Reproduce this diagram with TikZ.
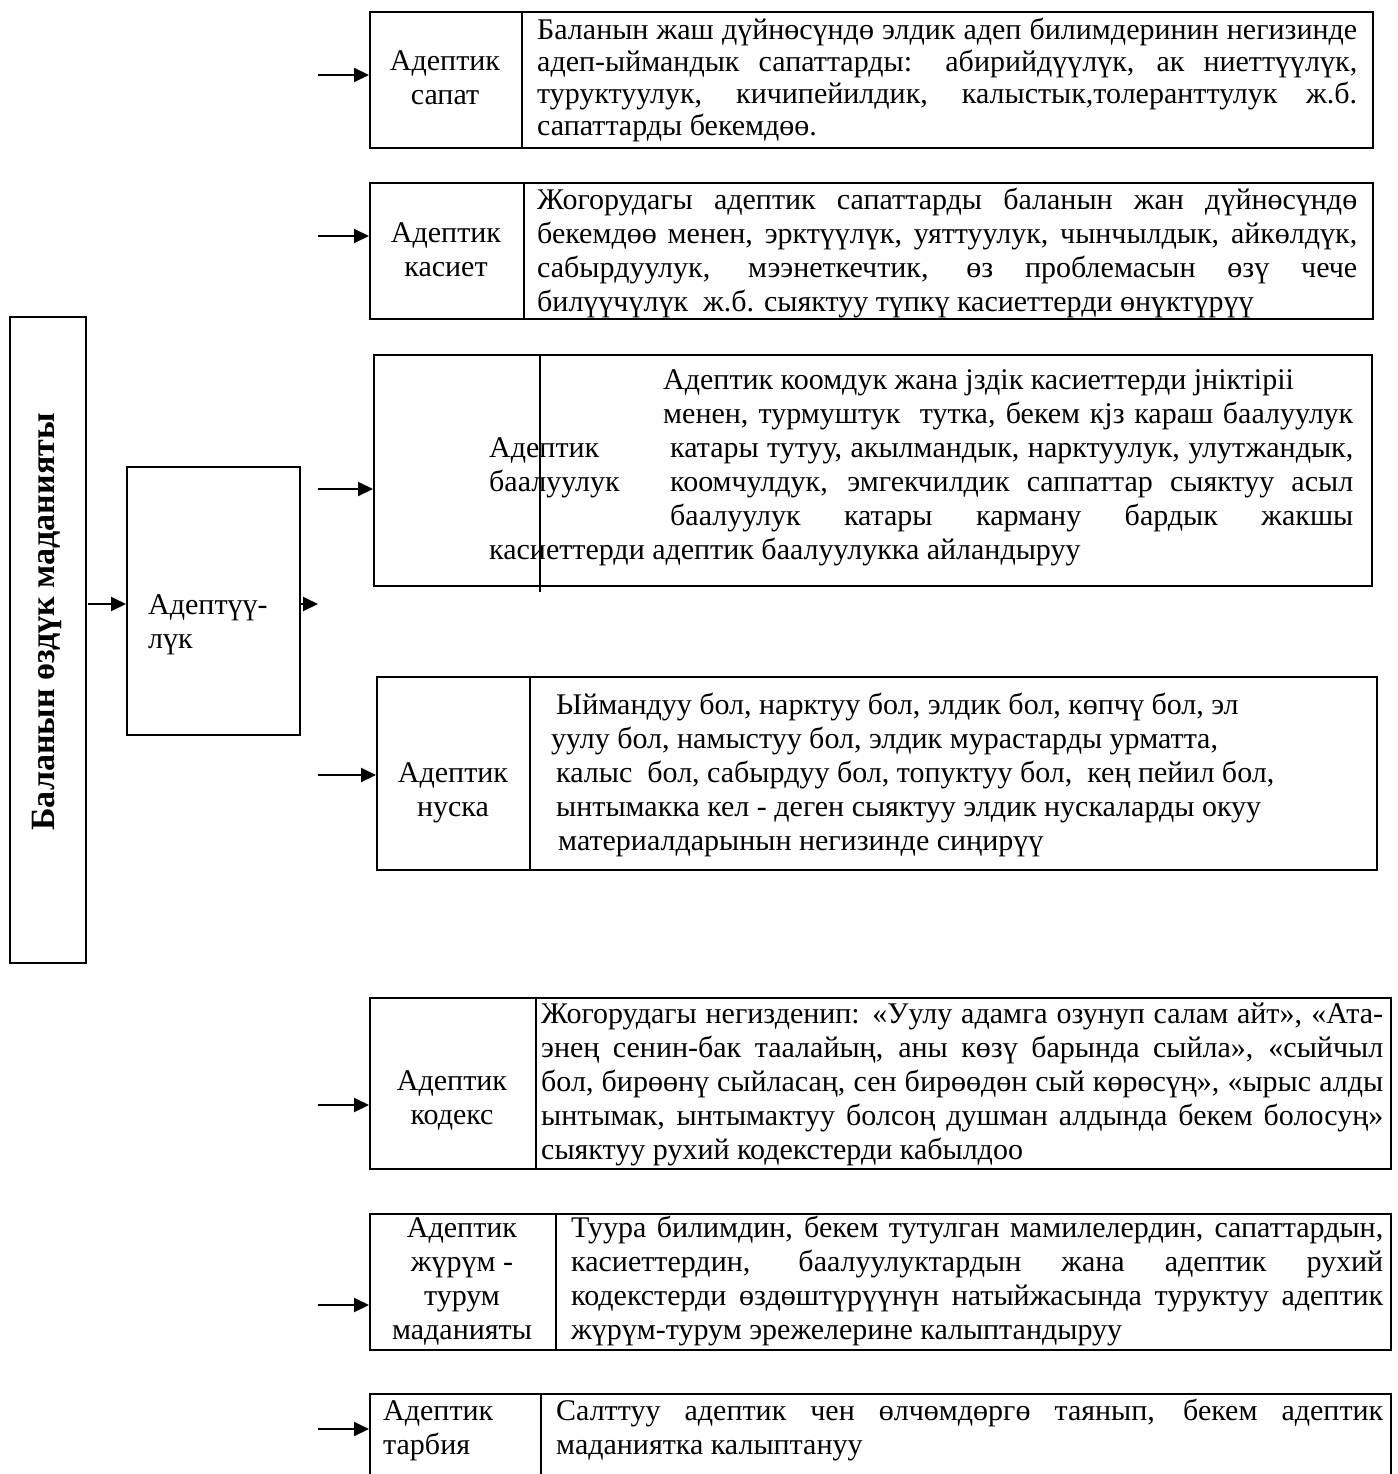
\documentclass[tikz,border=0pt]{standalone}
\usepackage{fontspec}
\setmainfont{Liberation Serif}
\usetikzlibrary{arrows.meta}
\newcommand\myjust[2]{\makebox[#1][s]{#2}}
\newcommand\mystrut{\rule{0pt}{25pt}}
\begin{document}
\begin{tikzpicture}[x=1pt,y=-1pt,
  box/.style={draw, line width=2pt, inner sep=0pt, anchor=north west},
  txt/.style={inner sep=0pt, anchor=north west, align=left, font=\fontsize{30}{34}\selectfont},
  lbl/.style={inner sep=0pt, anchor=north, align=center, font=\fontsize{30}{34}\selectfont},
  arr/.style={line width=2pt, -{Triangle[length=15pt,width=14pt]}},
  divider/.style={line width=2pt},
  thindiv/.style={line width=1.2pt}]
\useasboundingbox (0,0) rectangle (1397,1474);
\clip (0,0) rectangle (1397,1474);

% left tall box and middle box
\node[box, minimum width=76pt, minimum height=646pt] (lb) at (9,316) {};
\node[rotate=90, inner sep=0pt, font=\fontsize{34}{36}\selectfont\bfseries] (lt) at (47,622) {Баланын өздүк маданияты};
\node[box, minimum width=173pt, minimum height=268pt] (mid) at (126,466) {};
\node[txt] (midt) at (148,589) {\mystrut Адептүү-\\лүк};

% boxes
\node[box, minimum width=1003pt, minimum height=136pt] (b1) at (369,11) {};
\node[box, minimum width=1003pt, minimum height=136pt] (b2) at (369,182) {};
\node[box, minimum width=998pt, minimum height=231pt] (b3) at (373,354) {};
\node[box, minimum width=1000pt, minimum height=193pt] (b4) at (376,676) {};
\node[box, minimum width=1021pt, minimum height=171pt] (b5) at (369,997) {};
\node[box, minimum width=1021pt, minimum height=136pt] (b6) at (369,1213) {};
\node[box, minimum width=1021pt, minimum height=140pt] (b7) at (369,1393) {};

% dividers
\draw[divider] ([xshift=153pt]b1.north west) -- ([xshift=153pt]b1.south west);
\draw[divider] ([xshift=155pt]b2.north west) -- ([xshift=155pt]b2.south west);
\draw[thindiv] ([xshift=167pt]b3.north west) -- ([xshift=167pt,yshift=-5pt]b3.south west);
\draw[divider] ([xshift=154pt]b4.north west) -- ([xshift=154pt]b4.south west);
\draw[divider] ([xshift=167pt]b5.north west) -- ([xshift=167pt]b5.south west);
\draw[divider] ([xshift=187pt]b6.north west) -- ([xshift=187pt]b6.south west);
\draw[divider] ([xshift=172pt]b7.north west) -- ([xshift=172pt]b7.south west);

% box 1
\node[lbl] (l1) at (445,45) {\mystrut Адептик\\сапат};
\node[txt, font=\fontsize{30}{32}\selectfont] (t1) at (537,14) {\mystrut\myjust{820pt}{Баланын жаш дүйнөсүндө элдик адеп билимдеринин негизинде}\\
\myjust{820pt}{адеп-ыймандык сапаттарды: абирийдүүлүк, ак ниеттүүлүк,}\\
\myjust{820pt}{туруктуулук, кичипейилдик, калыстык,толеранттулук ж.б.}\\
сапаттарды бекемдөө.};

% box 2
\node[lbl] (l2) at (446,217) {\mystrut Адептик\\касиет};
\node[txt] (t2) at (537,184) {\mystrut\myjust{820pt}{Жогорудагы адептик сапаттарды баланын жан дүйнөсүндө}\\
\myjust{820pt}{бекемдөө менен, эрктүүлүк, уяттуулук, чынчылдык, айкөлдүк,}\\
\myjust{820pt}{сабырдуулук, мээнеткечтик, өз проблемасын өзү чече}\\
билүүчүлүк\ \ ж.б. сыяктуу түпкү касиеттерди өнүктүрүү};

% box 3
\node[txt] (l3) at (489,432) {\mystrut Адептик\\баалуулук};
\node[txt] (t3) at (489,364) {\mystrut\hspace*{174pt}Адептик коомдук жана јздік касиеттерди јніктірii\\
\hspace*{174pt}\myjust{690pt}{менен, турмуштук\ \ тутка, бекем кјз караш баалуулук}\\
\hspace*{181pt}\myjust{683pt}{катары тутуу, акылмандык, нарктуулук, улутжандык,}\\
\hspace*{181pt}\myjust{683pt}{коомчулдук, эмгекчилдик саппаттар сыяктуу асыл}\\
\hspace*{181pt}\myjust{683pt}{баалуулук катары карману бардык жакшы}\\
касиеттерди адептик баалуулукка айландыруу};

% box 4
\node[lbl] (l4) at (453,757) {\mystrut Адептик\\нуска};
\node[txt] (t4) at (551,689) {\mystrut\hspace*{5pt}Ыймандуу бол, нарктуу бол, элдик бол, көпчү бол, эл\\
уулу бол, намыстуу бол, элдик мурастарды урматта,\\
\hspace*{5pt}калыс\ \ бол, сабырдуу бол, топуктуу бол,\ \ кең пейил бол,\\
\hspace*{5pt}ынтымакка кел - деген сыяктуу элдик нускаларды окуу\\
\hspace*{7pt}материалдарынын негизинде сиңирүү};

% box 5
\node[lbl] (l5) at (452,1065) {\mystrut Адептик\\кодекс};
\node[txt] (t5) at (541,998) {\mystrut\myjust{842pt}{Жогорудагы негизденип: «Уулу адамга озунуп салам айт», «Ата-}\\
\myjust{842pt}{энең сенин-бак таалайың, аны көзү барында сыйла», «сыйчыл}\\
\myjust{842pt}{бол, бирөөнү сыйласаң, сен бирөөдөн сый көрөсүң», «ырыс алды}\\
\myjust{842pt}{ынтымак, ынтымактуу болсоң душман алдында бекем болосуң»}\\
сыяктуу рухий кодекстерди кабылдоо};

% box 6
\node[lbl] (l6) at (462,1212) {\mystrut Адептик\\жүрүм -\\турум\\маданияты};
\node[txt] (t6) at (571,1212) {\mystrut\myjust{812pt}{Туура билимдин, бекем тутулган мамилелердин, сапаттардын,}\\
\myjust{812pt}{касиеттердин, баалуулуктардын жана адептик рухий}\\
\myjust{812pt}{кодекстерди өздөштүрүүнүн натыйжасында туруктуу адептик}\\
жүрүм-турум эрежелерине калыптандыруу};

% box 7
\node[txt] (l7) at (383,1395) {\mystrut Адептик\\тарбия};
\node[txt] (t7) at (556,1395) {\mystrut\myjust{827pt}{Салттуу адептик чен өлчөмдөргө таянып, бекем адептик}\\
маданиятка калыптануу};

% arrows
\coordinate (s1) at (318,75);
\coordinate (s2) at (318,236);
\coordinate (s3) at (318,489);
\coordinate (s4) at (318,775);
\coordinate (s5) at (318,1105);
\coordinate (s6) at (318,1305);
\coordinate (s7) at (318,1429);
\coordinate (m0) at (88,604);
\coordinate (m1) at (318,604);
\draw[arr] (s1) -- (s1 -| b1.west);
\draw[arr] (s2) -- (s2 -| b2.west);
\draw[arr] (s3) -- (s3 -| b3.west);
\draw[arr] (s4) -- (s4 -| b4.west);
\draw[arr] (s5) -- (s5 -| b5.west);
\draw[arr] (s6) -- (s6 -| b6.west);
\draw[arr] (s7) -- (s7 -| b7.west);
\draw[arr] (m0) -- (m0 -| mid.west);
\draw[arr] (m1 -| mid.east) -- (m1);
\end{tikzpicture}
\end{document}
